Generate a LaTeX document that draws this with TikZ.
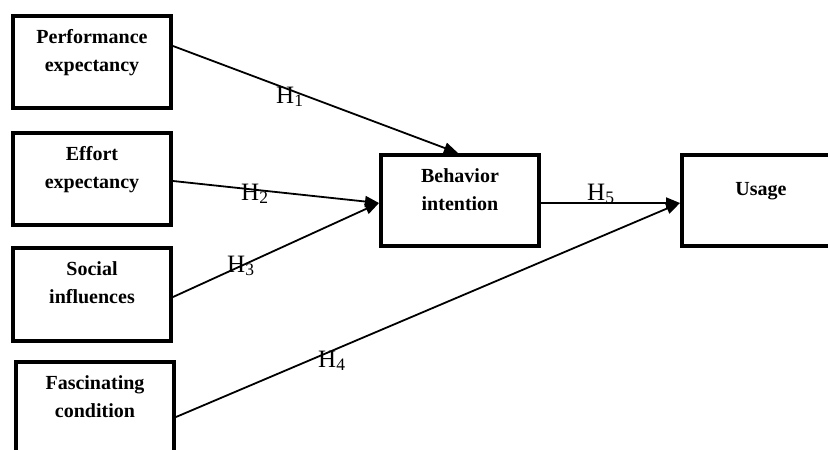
\documentclass[tikz,border=0pt]{standalone}
\usepackage{fontspec}
\setmainfont{Liberation Serif}
\usetikzlibrary{arrows.meta}
\begin{document}
\begin{tikzpicture}[x=1pt,y=-1pt,
  box/.style={draw, line width=4pt, minimum width=158pt, minimum height=92pt, inner sep=0pt},
  boxtext/.style={font=\fontsize{20}{28}\selectfont\bfseries, align=center, inner sep=0pt, anchor=north},
  link/.style={line width=1.8pt, -{Triangle[length=14pt,width=11pt]}},
  hlabel/.style={font=\fontsize{25}{30}\selectfont, inner sep=0pt, anchor=base west}]
\useasboundingbox (0,0) rectangle (828,450);
\clip (0,0) rectangle (828,450);
% boxes
\node[box] (perf) at (92,62) {};
\node[box] (eff) at (92,179) {};
\node[box, minimum height=93pt] (soc) at (92,294.5) {};
\node[box] (fac) at (95,408) {};
\node[box, minimum height=91pt] (beh) at (460,200.5) {};
\node[box, minimum height=91pt] (use) at (761,200.5) {};
% texts
\node[boxtext] (tperf) at ([yshift=-15pt]perf.north) {Performance\\expectancy};
\node[boxtext] (teff) at ([yshift=-15pt]eff.north) {Effort\\expectancy};
\node[boxtext] (tsoc) at ([yshift=-15.5pt]soc.north) {Social\\influences};
\node[boxtext] (tfac) at ([yshift=-15.5pt]fac.north) {Fascinating\\condition};
\node[boxtext] (tbeh) at ([yshift=-15pt]beh.north) {Behavior\\intention};
\node[boxtext, anchor=base] (tuse) at ([yshift=-42pt]use.north) {Usage};
% connectors
\draw[link] ([yshift=16pt]perf.east) -- ([xshift=-2pt]beh.north);
\draw[link] ([yshift=-2pt]eff.east) -- ([yshift=-2.5pt]beh.west);
\draw[link] ([yshift=-2.5pt]soc.east) -- ([yshift=-2.5pt]beh.west);
\draw[link] ([yshift=-9pt]fac.east) -- ([yshift=-2.5pt]use.west);
\draw[link] ([yshift=-2.5pt]beh.east) -- ([yshift=-2.5pt]use.west);
% labels
\node[hlabel] (h1) at (276,103) {H\textsubscript{1}};
\node[hlabel] (h2) at (241,200) {H\textsubscript{2}};
\node[hlabel] (h3) at (227,272) {H\textsubscript{3}};
\node[hlabel] (h4) at (318,367) {H\textsubscript{4}};
\node[hlabel] (h5) at (587,200) {H\textsubscript{5}};
\end{tikzpicture}
\end{document}
